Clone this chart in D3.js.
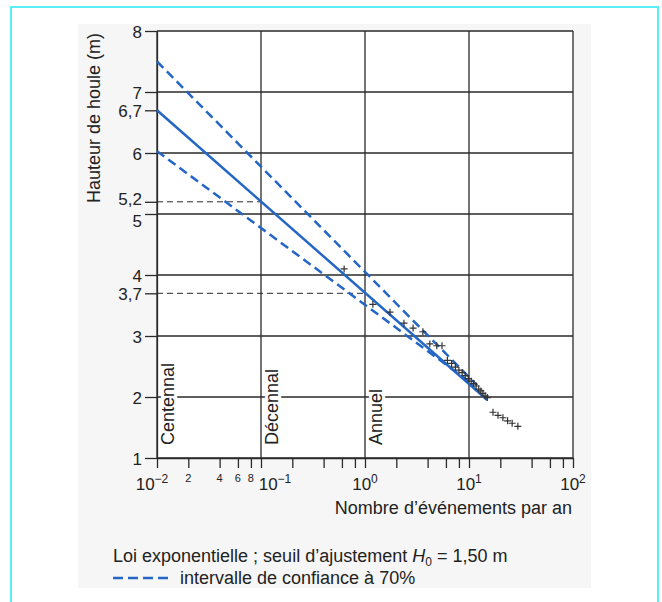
<!DOCTYPE html>
<html>
<head>
<meta charset="utf-8">
<script src="https://cdn.jsdelivr.net/npm/d3@7"></script>
<style>
  body { margin: 0; background: #fff; }
  svg text { font-family: "Liberation Sans", Arial, sans-serif; fill: #222; }
</style>
</head>
<body>
<svg id="chart"></svg>
<script>
// decades on the frequency axis and their exponents
const decades = [0.01, 0.1, 1, 10, 100];
const decadeExp = ["\u22122", "\u22121", "0", "1", "2"];
const minorMult = [2, 4, 6, 8];
const minorLabels = ["2", "4", "6", "8"];

// wave height axis
const heightTicks = [1, 2, 3, 4, 5, 6, 7, 8];

// return levels (centennial, decennial, annual)
const returnNames = ["Centennal", "D\u00e9cennal", "Annuel"];
const returnFreq = [0.01, 0.1, 1];
const returnLevel = [6.7, 5.2, 3.7];

// fitted exponential law and 70% confidence bounds
const fitFreq = [0.01, 15];
const fitH = [6.7, 1.95];
const upperFreq = [0.01, 12];
const upperH = [7.5, 2.19];
const lowerFreq = [0.01, 11];
const lowerH = [6.03, 2.2];

// observed events
const obsFreq = [0.63, 1.19, 1.74, 2.37, 2.9, 3.6, 4.2, 4.9, 5.5, 6.2, 6.8, 7.4, 8.0, 8.6, 9.2,
  9.9, 10.5, 11.1, 11.7, 12.4, 13.0, 13.6, 14.3, 15.0, 17.0, 19.0, 21.2, 23.5, 26.0, 29.5];
const obsH = [4.10, 3.52, 3.39, 3.21, 3.13, 3.07, 2.87, 2.84, 2.84, 2.60, 2.55, 2.49, 2.44, 2.40, 2.35,
  2.30, 2.26, 2.22, 2.18, 2.13, 2.10, 2.06, 2.02, 1.99, 1.75, 1.70, 1.66, 1.61, 1.57, 1.52];

const W = 662, H = 602;
const margin = { top: 31, right: 89, bottom: 144, left: 157 };
const blue = "#2366c6", ink = "#2a2a2a";

const svg = d3.select("#chart").attr("width", W).attr("height", H);

// frame of the scanned page
svg.append("rect").attr("x", 78).attr("y", 24).attr("width", 513).attr("height", 564).attr("fill", "#f6f6f6");
svg.append("rect").attr("x", 11).attr("y", 7).attr("width", 647).attr("height", 610)
  .attr("fill", "none").attr("stroke", "#5aeef6").attr("stroke-width", 2);

const x = d3.scaleLog().domain([0.01, 100]).range([margin.left, W - margin.right]);
const y = d3.scaleLinear().domain([1, 8]).range([H - margin.bottom, margin.top]);

svg.append("rect")
  .attr("x", x(0.01)).attr("y", y(8))
  .attr("width", x(100) - x(0.01)).attr("height", y(1) - y(8))
  .attr("fill", "#fff");

// horizontal grid lines
svg.append("g").selectAll("line")
  .data(heightTicks)
  .join("line")
  .attr("x1", x(0.01)).attr("x2", x(100))
  .attr("y1", d => y(d)).attr("y2", d => y(d))
  .attr("stroke", ink).attr("stroke-width", 1.3);

// dashed return level guides
svg.append("g").selectAll("line")
  .data(returnLevel.slice(1))
  .join("line")
  .attr("x1", x(0.01)).attr("x2", (d, i) => x(returnFreq[i + 1]))
  .attr("y1", d => y(d)).attr("y2", d => y(d))
  .attr("stroke", ink).attr("stroke-width", 1).attr("stroke-dasharray", "6,4");

// vertical names (cut through the grid)
svg.append("g").selectAll("text")
  .data(returnNames)
  .join("text")
  .attr("transform", (d, i) => `translate(${x(returnFreq[i]) + 17},${y(1) - 13}) rotate(-90)`)
  .attr("font-size", 18)
  .attr("stroke", "#fff").attr("stroke-width", 6).attr("paint-order", "stroke")
  .text(d => d);

// vertical grid lines
svg.append("g").selectAll("line")
  .data(decades)
  .join("line")
  .attr("x1", d => x(d)).attr("x2", d => x(d))
  .attr("y1", y(8)).attr("y2", y(1))
  .attr("stroke", ink).attr("stroke-width", 1.3);

// x axis ticks
const allXTicks = [];
decades.slice(0, -1).forEach(d => { allXTicks.push(d); minorMult.forEach(m => allXTicks.push(d * m)); });
allXTicks.push(100);

svg.append("g")
  .attr("transform", `translate(0,${y(1)})`)
  .call(d3.axisBottom(x).tickValues(allXTicks).tickSize(10).tickSizeOuter(0).tickFormat(""))
  .call(g => g.selectAll("line").attr("stroke", ink).attr("stroke-width", 1.3))
  .call(g => g.select(".domain").attr("stroke", ink).attr("stroke-width", 1.3));

// y axis ticks ("5,2" and "5" nudged apart so they do not collide)
const allYTicks = heightTicks.concat(returnLevel);
svg.append("g")
  .attr("transform", `translate(${x(0.01)},0)`)
  .call(d3.axisLeft(y).tickValues(allYTicks).tickSize(12).tickSizeOuter(0)
    .tickFormat(d => String(d).replace(".", ",")))
  .call(g => g.selectAll("line").attr("stroke", ink).attr("stroke-width", 1.3))
  .call(g => g.select(".domain").attr("stroke", ink).attr("stroke-width", 1.3))
  .call(g => g.selectAll("text").attr("font-size", 17).attr("font-family", "Liberation Sans, Arial, sans-serif")
    .attr("fill", "#222").attr("x", -15).attr("dy", "0.36em")
    .attr("y", d => d === 5 ? 6 : d === 5.2 ? -3 : 0));

// decade labels 10^n
const decLab = svg.append("g").selectAll("text")
  .data(decades)
  .join("text")
  .attr("x", d => x(d) + (d === 0.1 ? 14 : d === 0.01 ? -5 : 0))
  .attr("y", y(1) + 32)
  .attr("text-anchor", "middle")
  .attr("font-size", 17);
decLab.append("tspan").text("10");
decLab.append("tspan").attr("dy", -7).attr("font-size", 12).text((d, i) => decadeExp[i]);

// minor labels in the first decade
svg.append("g").selectAll("text")
  .data(minorMult)
  .join("text")
  .attr("x", d => x(0.01 * d))
  .attr("y", y(1) + 24)
  .attr("text-anchor", "middle")
  .attr("font-size", 11)
  .text((d, i) => minorLabels[i]);

// axis titles
svg.append("text")
  .attr("transform", `translate(100,${y(8) + 2}) rotate(-90)`)
  .attr("text-anchor", "end")
  .attr("font-size", 18)
  .text("Hauteur de houle (m)");

svg.append("text")
  .attr("x", x(100) - 1)
  .attr("y", y(1) + 56)
  .attr("text-anchor", "end")
  .attr("font-size", 18)
  .text("Nombre d\u2019\u00e9v\u00e9nements par an");

// fitted law and bounds
const line = d3.line().x(d => x(d[0])).y(d => y(d[1]));
svg.append("path")
  .attr("d", line(d3.zip(upperFreq, upperH)))
  .attr("fill", "none").attr("stroke", blue).attr("stroke-width", 2.5).attr("stroke-dasharray", "9,5");
svg.append("path")
  .attr("d", line(d3.zip(lowerFreq, lowerH)))
  .attr("fill", "none").attr("stroke", blue).attr("stroke-width", 2.5).attr("stroke-dasharray", "9,5");
svg.append("path")
  .attr("d", line(d3.zip(fitFreq, fitH)))
  .attr("fill", "none").attr("stroke", blue).attr("stroke-width", 2.5);

// observed points as + marks
svg.append("g").selectAll("path")
  .data(d3.zip(obsFreq, obsH))
  .join("path")
  .attr("transform", d => `translate(${x(d[0])},${y(d[1])})`)
  .attr("d", "M-3.5,0H3.5M0,-3.5V3.5")
  .attr("stroke", "#333").attr("stroke-width", 1.2);

// legend
const leg = svg.append("text").attr("x", 113).attr("y", 562).attr("font-size", 18);
leg.append("tspan").text("Loi exponentielle ; seuil d\u2019ajustement ");
leg.append("tspan").attr("font-style", "italic").text("H");
leg.append("tspan").attr("font-size", 12).attr("dy", 4).text("0");
leg.append("tspan").attr("dy", -4).text(" = 1,50 m");

svg.append("line")
  .attr("x1", 113).attr("x2", 171).attr("y1", 578).attr("y2", 578)
  .attr("stroke", blue).attr("stroke-width", 2.5).attr("stroke-dasharray", "10,5");
svg.append("text").attr("x", 180).attr("y", 584).attr("font-size", 18)
  .text("intervalle de confiance \u00e0 70%");
</script>
</body>
</html>
